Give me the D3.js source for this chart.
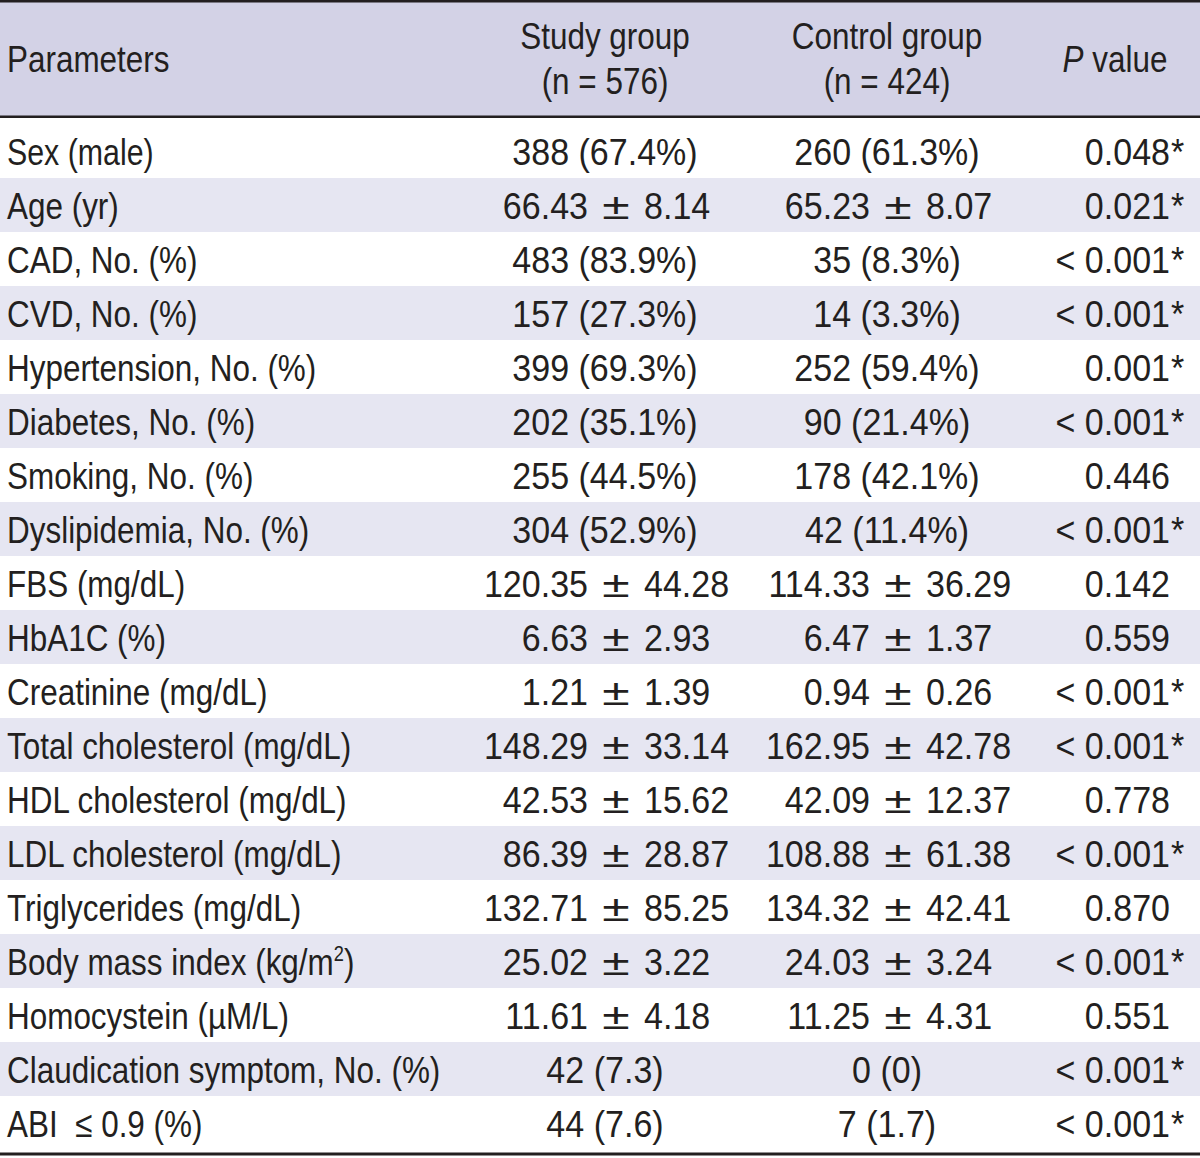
<!DOCTYPE html>
<html><head><meta charset="utf-8">
<script src="https://cdn.jsdelivr.net/npm/d3@7"></script>
<style>
body{margin:0;background:#fff}
svg{display:block}
text{font-family:"Liberation Sans",Arial,sans-serif;fill:#231f20}
</style>
</head><body>
<svg id="chart" width="1200" height="1158"></svg>
<script>
// ---- data ----
const parameters = [
  "Sex (male)", "Age (yr)", "CAD, No. (%)", "CVD, No. (%)", "Hypertension, No. (%)",
  "Diabetes, No. (%)", "Smoking, No. (%)", "Dyslipidemia, No. (%)", "FBS (mg/dL)",
  "HbA1C (%)", "Creatinine (mg/dL)", "Total cholesterol (mg/dL)", "HDL cholesterol (mg/dL)",
  "LDL cholesterol (mg/dL)", "Triglycerides (mg/dL)", "Body mass index (kg/m2)",
  "Homocystein (\u00b5M/L)", "Claudication symptom, No. (%)", "ABI\u00a0 \u2264 0.9 (%)"
];
const studyGroup = [
  "388 (67.4%)", "66.43 ± 8.14", "483 (83.9%)", "157 (27.3%)", "399 (69.3%)",
  "202 (35.1%)", "255 (44.5%)", "304 (52.9%)", "120.35 ± 44.28", "6.63 ± 2.93",
  "1.21 ± 1.39", "148.29 ± 33.14", "42.53 ± 15.62", "86.39 ± 28.87", "132.71 ± 85.25",
  "25.02 ± 3.22", "11.61 ± 4.18", "42 (7.3)", "44 (7.6)"
];
const controlGroup = [
  "260 (61.3%)", "65.23 ± 8.07", "35 (8.3%)", "14 (3.3%)", "252 (59.4%)",
  "90 (21.4%)", "178 (42.1%)", "42 (11.4%)", "114.33 ± 36.29", "6.47 ± 1.37",
  "0.94 ± 0.26", "162.95 ± 42.78", "42.09 ± 12.37", "108.88 ± 61.38", "134.32 ± 42.41",
  "24.03 ± 3.24", "11.25 ± 4.31", "0 (0)", "7 (1.7)"
];
const pValues = [
  "0.048*", "0.021*", "< 0.001*", "< 0.001*", "0.001*", "< 0.001*", "0.446", "< 0.001*",
  "0.142", "0.559", "< 0.001*", "< 0.001*", "0.778", "< 0.001*", "0.870", "< 0.001*",
  "0.551", "< 0.001*", "< 0.001*"
];
const columnHeaders = [
  ["Parameters"], ["Study group", "(n = 576)"], ["Control group", "(n = 424)"], ["P value"]
];

// ---- layout ----
const W = 1200;
const FS = 37;
const SX_LABEL = 0.85, SX_NUM = 0.92, SX_PM = 1.35;
const svg = d3.select("#chart");
const headerColor = "#d3d2e6", stripeColor = "#e6e6f2", lineColor = "#231f20";

const y = d3.scaleBand().domain(d3.range(parameters.length)).range([124, 1150]);
const colCenter = d3.scaleOrdinal().domain(["param","study","control","p"]).range([7, 605, 887, 1115]);
const pmX = d3.scaleOrdinal().domain(["study","control"]).range([616, 898]);
const pRight = 1170;
const pmGap = 28;

function addText(g, x, yy, str, anchor, sx, size) {
  return g.append("text")
    .attr("transform", `translate(${x},${yy}) scale(${sx},1)`)
    .attr("text-anchor", anchor || "start")
    .attr("font-size", size || FS)
    .text(str);
}

// header band
svg.append("rect").attr("x",0).attr("y",2).attr("width",W).attr("height",114).attr("fill",headerColor);
// stripes
svg.selectAll("rect.stripe").data(d3.range(parameters.length).filter(i => i % 2 === 1))
  .join("rect").attr("class","stripe")
  .attr("x",0).attr("y",i => y(i)).attr("width",W).attr("height",y.bandwidth())
  .attr("fill",stripeColor);
// rules
svg.append("rect").attr("x",0).attr("y",0).attr("width",W).attr("height",2.5).attr("fill",lineColor);
svg.append("rect").attr("x",0).attr("y",115.5).attr("width",W).attr("height",2.5).attr("fill",lineColor);
svg.append("rect").attr("x",0).attr("y",1152.5).attr("width",W).attr("height",3).attr("fill",lineColor);

// header texts
const hg = svg.append("g");
addText(hg, colCenter("param"), 72, columnHeaders[0][0], "start", SX_LABEL);
["study","control"].forEach((k,j) => {
  const lines = columnHeaders[j+1];
  addText(hg, colCenter(k), 49, lines[0], "middle", SX_LABEL);
  addText(hg, colCenter(k), 94, lines[1], "middle", SX_LABEL);
});
const pt = addText(hg, colCenter("p"), 72, "", "middle", SX_LABEL);
pt.append("tspan").attr("font-style","italic").text(columnHeaders[3][0].split(" ")[0]);
pt.append("tspan").text(" " + columnHeaders[3][0].split(" ").slice(1).join(" "));

// body
const base = i => y(i) + 41;
const bg = svg.append("g");

parameters.forEach((p,i) => {
  const t = addText(bg, colCenter("param"), base(i), "", "start", p.startsWith("Sex") ? 0.82 : SX_LABEL);
  if (p.endsWith("m2)")) {
    t.append("tspan").text(p.slice(0,-2));
    t.append("tspan").attr("font-size",FS*0.58).attr("dy",-14).text("2");
    t.append("tspan").attr("dy",14).text(")");
  } else t.text(p);
});

function drawValue(key, v, i) {
  if (v.includes("±")) {
    const [a,b] = v.split("±").map(s => s.trim());
    const cx = pmX(key);
    addText(bg, cx - pmGap, base(i), a, "end", SX_NUM);
    addText(bg, cx, base(i), "±", "middle", SX_PM);
    addText(bg, cx + pmGap, base(i), b, "start", SX_NUM);
  } else {
    addText(bg, colCenter(key), base(i), v, "middle", SX_NUM);
  }
}
studyGroup.forEach((v,i) => drawValue("study", v, i));
controlGroup.forEach((v,i) => drawValue("control", v, i));

pValues.forEach((v,i) => {
  const star = v.endsWith("*");
  const num = star ? v.slice(0,-1) : v;
  addText(bg, pRight, base(i), num, "end", SX_NUM);
  if (star) addText(bg, pRight + 1, base(i), "*", "start", SX_NUM);
});
</script>
</body></html>
